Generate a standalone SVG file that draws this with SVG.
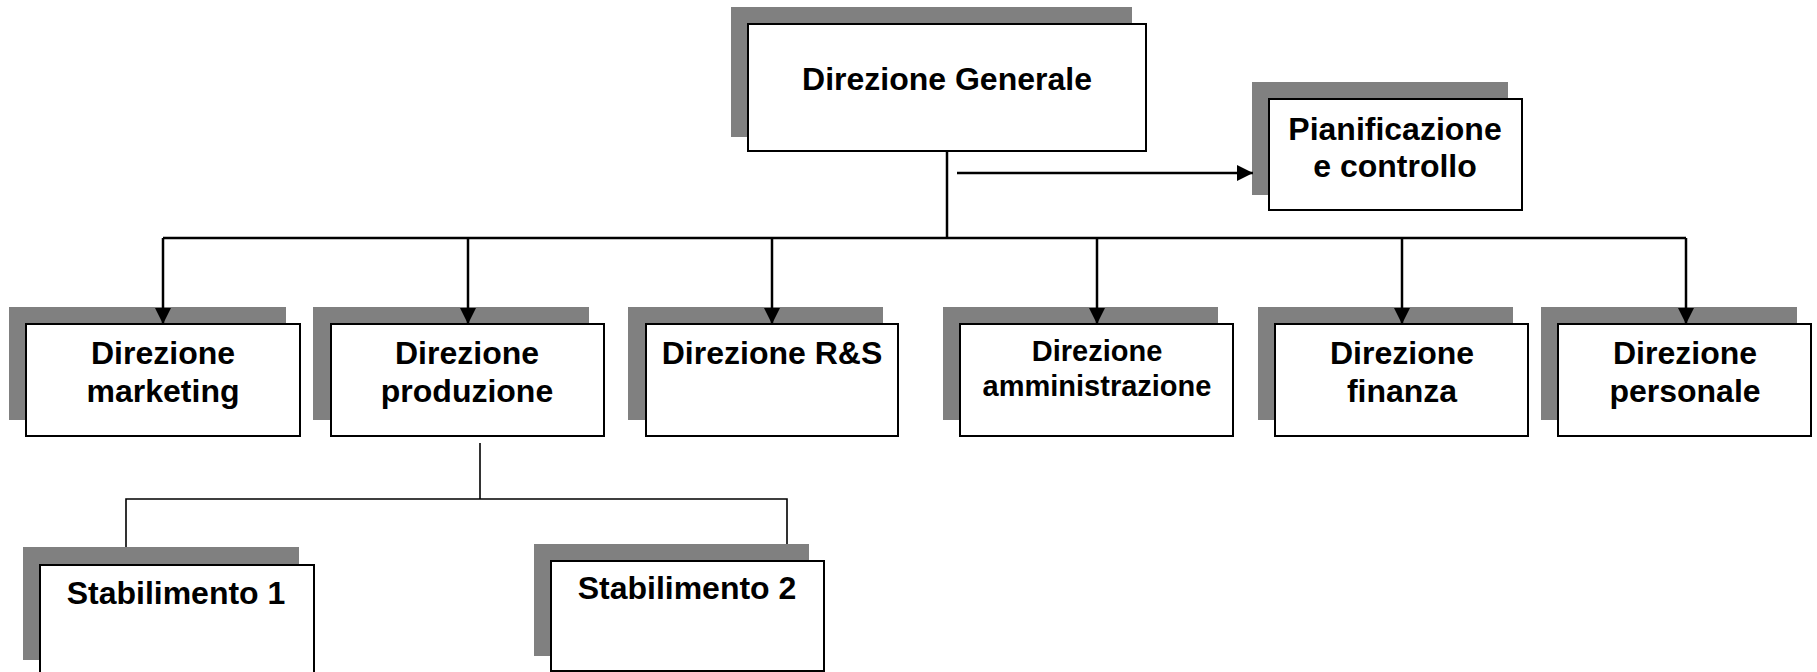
<svg xmlns="http://www.w3.org/2000/svg" width="1817" height="672" viewBox="0 0 1817 672">
<style>
.sh{fill:#808080;stroke:none}
.bx{fill:#fff;stroke:#000;stroke-width:2}
.t{font-family:"Liberation Sans",Arial,sans-serif;font-weight:bold;font-size:32px;fill:#000;text-anchor:middle}
.ts{font-size:29px}
.c{fill:none;stroke:#000;stroke-width:2.5}
.c2{fill:none;stroke:#000;stroke-width:1.6}
</style>
<defs>
<marker id="ah" viewBox="0 0 10 10" refX="10" refY="5" markerWidth="16" markerHeight="16" markerUnits="userSpaceOnUse" orient="auto">
<path d="M0,0 L10,5 L0,10 z" fill="#000"/>
</marker>
</defs>
<rect width="1817" height="672" fill="#fff"/>
<g id="generale">
<rect class="sh" x="731" y="7" width="401" height="130"/>
<rect class="bx" x="748" y="24" width="398" height="127"/>
<text class="t" x="947" y="90">Direzione Generale</text>
</g>
<g id="pianificazione">
<rect class="sh" x="1252" y="82" width="256" height="113"/>
<rect class="bx" x="1269" y="99" width="253" height="111"/>
<text class="t" x="1395" y="140">Pianificazione</text>
<text class="t" x="1395" y="177">e controllo</text>
</g>
<g id="marketing">
<rect class="sh" x="9" y="307" width="277" height="113"/>
<rect class="bx" x="26" y="324" width="274" height="112"/>
<text class="t" x="163" y="364">Direzione</text>
<text class="t" x="163" y="402">marketing</text>
</g>
<g id="produzione">
<rect class="sh" x="313" y="307" width="276" height="113"/>
<rect class="bx" x="331" y="324" width="273" height="112"/>
<text class="t" x="467" y="364">Direzione</text>
<text class="t" x="467" y="402">produzione</text>
</g>
<g id="rs">
<rect class="sh" x="628" y="307" width="255" height="113"/>
<rect class="bx" x="646" y="324" width="252" height="112"/>
<text class="t" x="772" y="364">Direzione R&amp;S</text>
</g>
<g id="amministrazione">
<rect class="sh" x="943" y="307" width="275" height="113"/>
<rect class="bx" x="960" y="324" width="273" height="112"/>
<text class="t ts" x="1097" y="361">Direzione</text>
<text class="t ts" x="1097" y="396">amministrazione</text>
</g>
<g id="finanza">
<rect class="sh" x="1258" y="307" width="255" height="113"/>
<rect class="bx" x="1275" y="324" width="253" height="112"/>
<text class="t" x="1402" y="364">Direzione</text>
<text class="t" x="1402" y="402">finanza</text>
</g>
<g id="personale">
<rect class="sh" x="1541" y="307" width="256" height="113"/>
<rect class="bx" x="1558" y="324" width="253" height="112"/>
<text class="t" x="1685" y="364">Direzione</text>
<text class="t" x="1685" y="402">personale</text>
</g>
<g id="stabilimento1">
<rect class="sh" x="23" y="547" width="276" height="113"/>
<rect class="bx" x="40" y="565" width="274" height="112"/>
<text class="t" x="176" y="604">Stabilimento 1</text>
</g>
<g id="stabilimento2">
<rect class="sh" x="534" y="544" width="275" height="112"/>
<rect class="bx" x="551" y="561" width="273" height="110"/>
<text class="t" x="687" y="599">Stabilimento 2</text>
</g>
<g id="connectors">
<line class="c" x1="947" y1="151" x2="947" y2="238"/>
<line class="c" x1="163" y1="238" x2="1686" y2="238"/>
<line class="c" x1="957" y1="173" x2="1253" y2="173" marker-end="url(#ah)"/>
<line class="c" x1="163" y1="238" x2="163" y2="324" marker-end="url(#ah)"/>
<line class="c" x1="468" y1="238" x2="468" y2="324" marker-end="url(#ah)"/>
<line class="c" x1="772" y1="238" x2="772" y2="324" marker-end="url(#ah)"/>
<line class="c" x1="1097" y1="238" x2="1097" y2="324" marker-end="url(#ah)"/>
<line class="c" x1="1402" y1="238" x2="1402" y2="324" marker-end="url(#ah)"/>
<line class="c" x1="1686" y1="238" x2="1686" y2="324" marker-end="url(#ah)"/>
<line class="c2" x1="480" y1="443" x2="480" y2="499"/>
<polyline class="c2" points="126,547 126,499 787,499 787,544"/>
</g>
</svg>
